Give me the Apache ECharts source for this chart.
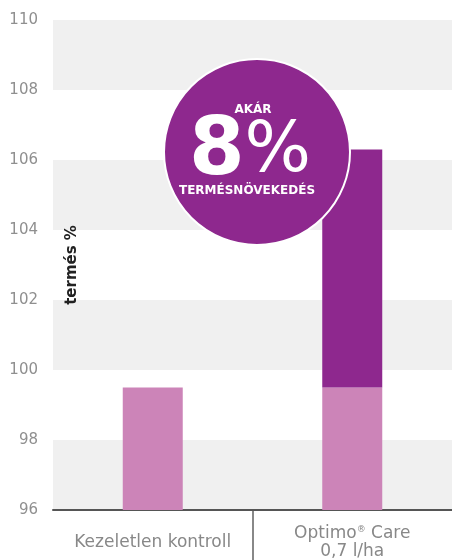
<!DOCTYPE html>
<html lang="hu">
<head>
<meta charset="UTF-8" />
<title>Termés %</title>
<script type="text/javascript" src="https://cdn.jsdelivr.net/npm/echarts@6/dist/echarts.min.js"></script>
<style>
    html, body { margin: 0; padding: 0; background: #fff; }
</style>
</head>
<body>
<!-- diagram -->
<div id="main" style="width: 452px; height: 560px;"></div>
<script type="text/javascript">
    // adatok
    var categories = ['Kezeletlen kontroll', 'Optimo® Care\n0,7 l/ha'];
    var baseValues = [99.5, 99.5];     // alap termés
    var extraValues = ['-', 6.8];      // többlet (106.3 - 99.5)
    var yTicks = [96, 98, 100, 102, 104, 106, 108, 110];

    var light = '#cc84b8';
    var dark = '#8e288e';
    var font = 'DejaVu Sans';

    var myChart = echarts.init(document.getElementById('main'));

    var options = {
        animation: false,
        textStyle: { fontFamily: font },
        grid: { left: 53, right: 0, top: 20, bottom: 50, outerBoundsMode: 'none' },
        xAxis: {
            type: 'category',
            data: categories,
            axisLine: { lineStyle: { color: '#555', width: 2 } },
            axisTick: { show: false },
            axisLabel: {
                interval: 0,
                hideOverlap: false,
                margin: 33,
                verticalAlign: 'middle',
                fontSize: 17,
                lineHeight: 18,
                color: '#888',
                formatter: function (v) {
                    return v.replace('®', '{s|®}');
                },
                rich: {
                    s: { fontSize: 9, color: '#888', verticalAlign: 'top', padding: [0, 0, 8, 0] }
                }
            }
        },
        yAxis: {
            type: 'value',
            min: yTicks[0],
            max: yTicks[yTicks.length - 1],
            interval: yTicks[1] - yTicks[0],
            name: 'termés %',
            nameLocation: 'middle',
            nameRotate: 90,
            nameGap: -27,
            nameTextStyle: { fontSize: 15, fontWeight: 'bold', color: '#222' },
            axisLine: { show: false },
            axisTick: { show: false },
            axisLabel: { fontSize: 15, color: '#8f8f8f', margin: 15 },
            splitLine: { show: false },
            splitArea: { show: true, areaStyle: { color: ['#f0f0f0', '#ffffff'] } }
        },
        series: [
            {
                name: 'alap',
                type: 'bar',
                stack: 't',
                barWidth: 60,
                itemStyle: { color: light },
                data: baseValues
            },
            {
                name: 'többlet',
                type: 'bar',
                stack: 't',
                barWidth: 60,
                itemStyle: { color: dark },
                data: extraValues
            }
        ]
    };
    myChart.setOption(options);

    // elválasztó vonal a két kategória között + kiemelő kör
    var c0 = myChart.convertToPixel({ xAxisIndex: 0 }, 0);
    var c1 = myChart.convertToPixel({ xAxisIndex: 0 }, 1);
    var yBase = myChart.convertToPixel({ yAxisIndex: 0 }, yTicks[0]);
    var midX = Math.round((c0 + c1) / 2);

    myChart.setOption({
        graphic: [
            {
                type: 'line',
                shape: { x1: midX, y1: yBase + 1, x2: midX, y2: 560 },
                style: { stroke: '#888', lineWidth: 2 },
                z: 10
            },
            {
                type: 'circle',
                shape: { cx: 257, cy: 152, r: 93 },
                style: { fill: dark, stroke: '#fff', lineWidth: 2 },
                z: 20
            },
            {
                type: 'text',
                x: 253, y: 110,
                style: {
                    text: 'AKÁR', fill: '#fff', textAlign: 'center', textVerticalAlign: 'middle',
                    font: 'bold 12px "DejaVu Sans"'
                },
                z: 21
            },
            {
                type: 'text',
                x: 250, y: 153,
                style: {
                    text: '{a|8}{b|%}', textAlign: 'center', textVerticalAlign: 'middle',
                    rich: {
                        a: { fill: '#fff', fontSize: 80, fontWeight: 'bold', fontFamily: font },
                        b: { fill: '#fff', fontSize: 70, fontWeight: 'normal', fontFamily: font }
                    }
                },
                z: 21
            },
            {
                type: 'text',
                x: 247, y: 191,
                style: {
                    text: 'TERMÉSNÖVEKEDÉS', fill: '#fff', textAlign: 'center', textVerticalAlign: 'middle',
                    font: 'bold 12px "DejaVu Sans"'
                },
                z: 21
            }
        ]
    });
</script>
</body>
</html>
